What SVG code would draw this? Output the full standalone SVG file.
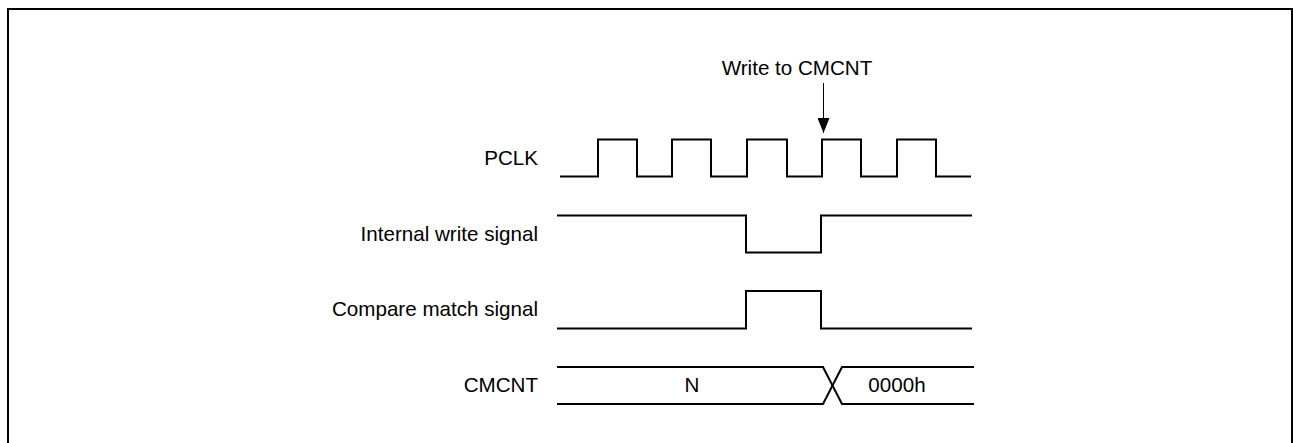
<svg xmlns="http://www.w3.org/2000/svg" width="1293" height="443" viewBox="0 0 1293 443">
<style>
  .lbl { font-family: "Liberation Sans", Arial, sans-serif; font-size: 20.6px; fill: #000; }
  .wave { fill: none; stroke: #000; stroke-width: 2; stroke-linejoin: miter; }
  .frame { fill: none; stroke: #000; stroke-width: 2; }
</style>
<defs>
  <marker id="arrow" markerWidth="15" markerHeight="12" refX="15" refY="6" orient="auto" markerUnits="userSpaceOnUse" viewBox="0 0 15 12">
    <path d="M0,0 L15,6 L0,12 Z" fill="#000"/>
  </marker>
</defs>
<rect fill="#fff" x="0" y="0" width="1293" height="443"/>
<rect class="frame" x="8" y="9" width="1284" height="500"/>

<g id="pclk">
  <text class="lbl" x="538" y="165" text-anchor="end">PCLK</text>
  <path class="wave" d="M560,176.5 H598 V139.5 H637 V176.5 H672 V139.5 H711 V176.5 H747 V139.5 H787 V176.5 H822 V139.5 H861 V176.5 H897 V139.5 H936 V176.5 H971"/>
</g>

<g id="internal-write">
  <text class="lbl" x="538" y="241" text-anchor="end">Internal write signal</text>
  <path class="wave" d="M557,215.5 H746 V252.5 H821 V215.5 H972"/>
</g>

<g id="compare-match">
  <text class="lbl" x="538" y="316" text-anchor="end">Compare match signal</text>
  <path class="wave" d="M557,328.5 H746 V291 H821 V328.5 H972"/>
</g>

<g id="cmcnt">
  <text class="lbl" x="538" y="392" text-anchor="end">CMCNT</text>
  <path class="wave" d="M557,367 H823 L842,404 H974"/>
  <path class="wave" d="M557,404 H823 L842,367 H974"/>
  <text class="lbl" x="692" y="392" text-anchor="middle">N</text>
  <text class="lbl" x="897" y="392" text-anchor="middle">0000h</text>
</g>

<g id="write-label">
  <text class="lbl" x="797" y="75" text-anchor="middle">Write to CMCNT</text>
</g>

<g id="connectors">
  <line x1="823.5" y1="83" x2="823.5" y2="133" stroke="#000" stroke-width="1" marker-end="url(#arrow)"/>
</g>
</svg>
